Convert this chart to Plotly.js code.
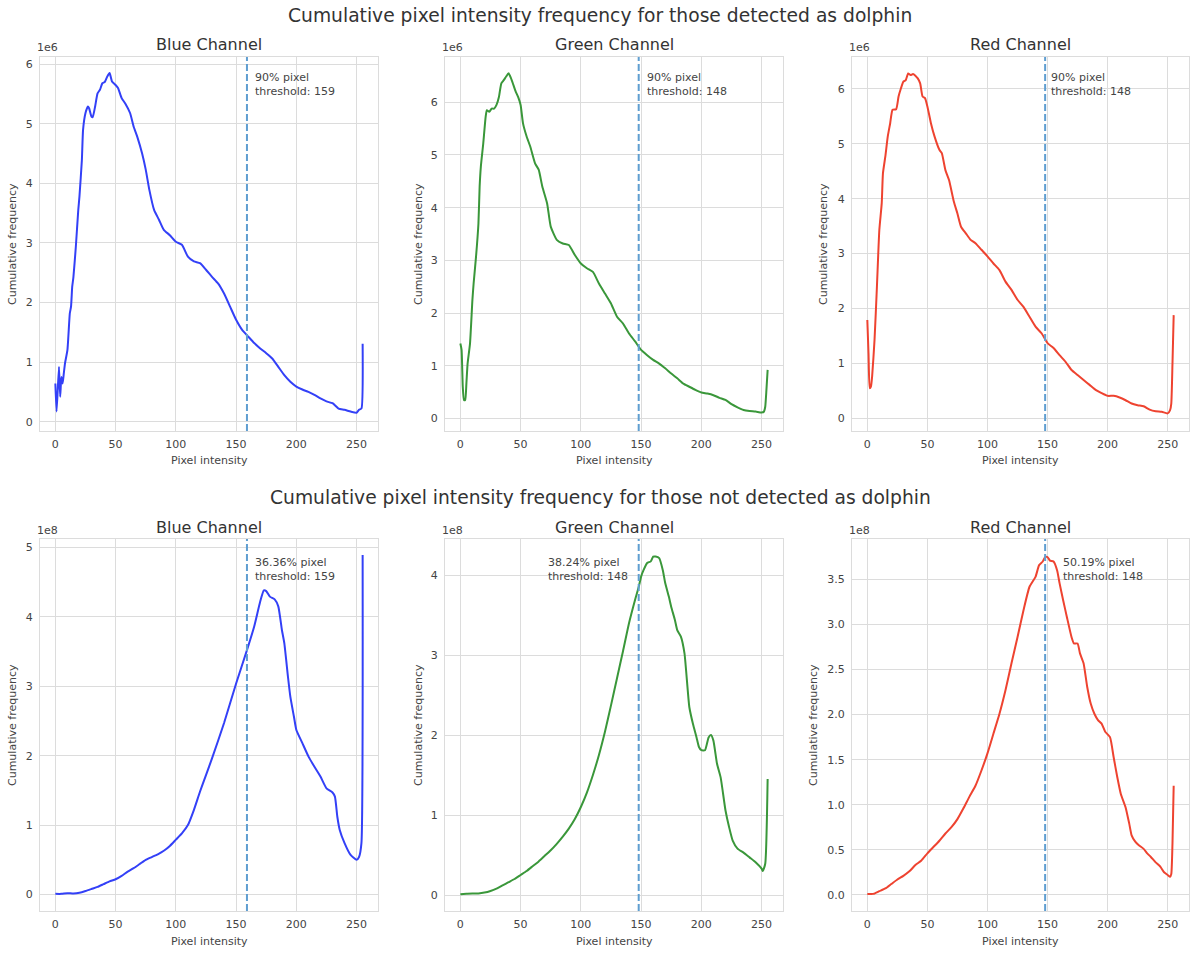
<!DOCTYPE html>
<html>
<head>
<meta charset="utf-8">
<script src="https://cdn.plot.ly/plotly-3.0.1.min.js"></script>
<style>html,body{margin:0;padding:0;background:#fff;}#chart{width:1200px;height:954px;}</style>
</head>
<body>
<div id="chart"></div>
<script>
// ---------- DATA ----------
// Detected as dolphin (y in units of 1e6)
const blueDetX = [0,1,3,4,5,6,7,8,10,12,13,14,15,17,19,20,22,23,25,27,28,30,31,33,35,37,39,41,43,45,47,50,52,55,58,62,65,68,72,75,78,82,86,90,95,100,105,110,115,120,125,130,135,140,145,150,155,160,165,170,175,180,185,190,195,200,205,210,215,220,225,230,235,240,245,250,252,254,255];
const blueDetY = [0.64,0.17,0.92,0.42,0.75,0.64,0.81,0.98,1.2,1.82,1.93,2.27,2.43,2.94,3.55,3.78,4.39,4.9,5.18,5.29,5.26,5.12,5.11,5.29,5.51,5.57,5.68,5.70,5.79,5.85,5.71,5.65,5.60,5.43,5.34,5.18,4.95,4.78,4.5,4.23,3.89,3.55,3.39,3.22,3.13,3.02,2.97,2.77,2.69,2.66,2.55,2.43,2.32,2.15,1.93,1.71,1.54,1.43,1.32,1.23,1.15,1.06,0.92,0.78,0.67,0.59,0.54,0.50,0.45,0.39,0.34,0.31,0.22,0.20,0.17,0.15,0.2,0.22,1.31];

const greenDetX = [0,1,2,3,4,5,6,8,10,11,13,15,16,17,19,21,22,24,26,28,30,32,34,36,38,40,42,44,46,48,50,52,55,58,62,65,68,72,75,80,85,90,95,100,105,110,115,120,125,130,135,140,145,150,155,160,165,170,175,180,185,190,195,200,205,210,215,220,225,230,235,240,245,250,252,253,254,255];
const greenDetY = [1.42,1.30,0.6,0.35,0.35,0.66,1.04,1.42,2.25,2.56,3.07,3.70,4.40,4.78,5.22,5.73,5.85,5.82,5.88,5.88,5.95,6.1,6.36,6.42,6.49,6.55,6.46,6.33,6.2,6.1,5.95,5.6,5.35,5.16,4.84,4.72,4.40,4.08,3.64,3.39,3.32,3.29,3.10,2.94,2.85,2.78,2.56,2.37,2.18,1.93,1.80,1.61,1.46,1.30,1.20,1.11,1.04,0.95,0.85,0.76,0.66,0.60,0.54,0.49,0.47,0.44,0.39,0.35,0.27,0.21,0.16,0.14,0.13,0.11,0.13,0.22,0.54,0.92];

const redDetX = [0,1,2,3,4,6,8,10,12,13,15,17,19,21,24,26,28,30,32,34,36,38,40,42,44,46,48,50,53,56,60,62,65,68,72,75,78,82,86,90,95,100,105,110,115,120,125,130,135,140,145,150,155,160,165,170,175,180,185,190,195,200,205,210,215,220,225,230,235,240,245,250,252,253,254,255];
const redDetY = [1.79,1.18,0.55,0.58,0.76,1.43,2.40,3.43,3.92,4.46,4.77,5.13,5.37,5.62,5.63,5.86,6.01,6.13,6.16,6.28,6.25,6.27,6.24,6.19,6.10,5.86,5.83,5.68,5.37,5.13,4.89,4.83,4.52,4.34,3.95,3.73,3.49,3.37,3.25,3.19,3.07,2.95,2.82,2.70,2.49,2.34,2.16,2.03,1.85,1.67,1.55,1.37,1.28,1.15,1.03,0.88,0.79,0.70,0.61,0.52,0.46,0.41,0.41,0.38,0.33,0.27,0.24,0.22,0.16,0.13,0.12,0.09,0.15,0.27,1.0,1.88];

// Not detected as dolphin (y in units of 1e8)
const blueNotX = [0,5,10,15,20,25,30,35,40,45,50,55,60,65,70,75,80,85,90,95,100,105,110,115,120,125,130,140,150,159,165,170,173,175,178,182,185,188,190,193,195,198,200,205,210,215,220,225,230,232,234,236,240,245,250,252,254,255];
const blueNotY = [0.01,0.01,0.02,0.015,0.025,0.05,0.08,0.11,0.15,0.19,0.22,0.27,0.33,0.38,0.44,0.50,0.54,0.58,0.63,0.70,0.79,0.88,1.00,1.22,1.48,1.72,1.96,2.47,3.04,3.52,3.86,4.22,4.38,4.37,4.29,4.25,4.15,3.81,3.62,3.14,2.85,2.56,2.37,2.18,1.99,1.84,1.70,1.53,1.47,1.41,1.12,0.93,0.74,0.57,0.50,0.54,0.74,4.89];

const greenNotX = [0,5,10,15,20,25,30,35,40,45,50,55,60,65,70,75,80,85,90,95,100,105,110,115,120,125,130,135,140,145,148,150,152,155,158,160,162,165,168,170,173,175,178,180,183,186,190,193,196,198,200,203,206,208,210,213,216,220,223,226,230,235,240,245,250,251,253,255];
const greenNotY = [0.01,0.015,0.02,0.02,0.03,0.05,0.08,0.12,0.16,0.20,0.25,0.30,0.36,0.42,0.49,0.56,0.64,0.73,0.83,0.95,1.10,1.28,1.50,1.75,2.04,2.37,2.71,3.05,3.40,3.69,3.85,3.98,4.06,4.15,4.17,4.23,4.23,4.21,4.06,3.90,3.73,3.60,3.44,3.31,3.23,3.02,2.35,2.14,1.97,1.85,1.81,1.81,1.97,2.0,1.93,1.64,1.47,1.06,0.85,0.68,0.58,0.53,0.47,0.41,0.33,0.30,0.39,1.45];

const redNotX = [0,5,10,15,20,25,30,35,40,45,50,55,60,65,70,75,80,85,90,95,100,105,110,115,120,125,130,135,140,143,146,148,150,152,155,158,160,163,166,170,172,175,177,180,183,186,189,192,195,198,202,205,208,211,215,218,220,223,226,230,233,236,240,244,247,250,252,253,254,255];
const redNotY = [0.01,0.01,0.04,0.07,0.12,0.17,0.21,0.26,0.33,0.38,0.46,0.53,0.60,0.68,0.75,0.84,0.96,1.09,1.21,1.38,1.57,1.79,2.01,2.27,2.57,2.86,3.16,3.42,3.53,3.66,3.70,3.75,3.75,3.71,3.70,3.60,3.46,3.27,3.09,2.86,2.79,2.79,2.68,2.57,2.31,2.12,2.01,1.94,1.90,1.81,1.75,1.53,1.31,1.12,0.97,0.79,0.66,0.59,0.55,0.51,0.46,0.42,0.36,0.31,0.25,0.22,0.20,0.23,0.57,1.21];

const channelTitles = ['Blue Channel','Green Channel','Red Channel','Blue Channel','Green Channel','Red Channel'];
const thresholds = [159,148,148,159,148,148];
const percentLabels = ['90%','90%','90%','36.36%','38.24%','50.19%'];
const offsetLabels = ['1e6','1e6','1e6','1e8','1e8','1e8'];
const rowTitles = ['Cumulative pixel intensity frequency for those detected as dolphin',
                   'Cumulative pixel intensity frequency for those not detected as dolphin'];
const xTickVals = [0,50,100,150,200,250];
const xLabel = 'Pixel intensity';
const yLabel = 'Cumulative frequency';

// ---------- STYLE / LAYOUT ----------
const W = 1200, H = 954;
const colPx = [[40,378],[445,783],[852,1189]];
const rowPx = [[57,431],[539,911]];
const lineColors = ['#3340f7','#3a973a','#ee4330','#3340f7','#3a973a','#ee4330'];
const yRanges = [[-0.156,6.12],[-0.24,6.86],[-0.23,6.58],[-0.237,5.12],[-0.2,4.45],[-0.18,3.95]];
const yDtick = [1,1,1,1,1,0.5];
const yFormat = ['d','d','d','d','d','.1f'];
const yTitleOffset = [28,27,29,28,27,39];
const annX = [5,5,3,5,-7,13];
const annAnchor = ['left','left','left','left','right','left'];
const seriesX = [blueDetX,greenDetX,redDetX,blueNotX,greenNotX,redNotX];
const seriesY = [blueDetY,greenDetY,redDetY,blueNotY,greenNotY,redNotY];

const FONT = 'DejaVu Sans, Verdana, sans-serif';
const TXT = '#444444';
const GRID = '#dcdcdc';

const traces = [];
const layout = {
  width: W, height: H,
  margin: {l:0,r:0,t:0,b:0},
  paper_bgcolor: '#ffffff', plot_bgcolor: '#ffffff',
  showlegend: false,
  font: {family: FONT, color: TXT, size: 11},
  shapes: [], annotations: []
};

for (let i = 0; i < 6; i++) {
  const r = Math.floor(i/3), c = i % 3;
  const n = i + 1;
  const xa = n === 1 ? 'x' : 'x' + n;
  const ya = n === 1 ? 'y' : 'y' + n;
  const xKey = n === 1 ? 'xaxis' : 'xaxis' + n;
  const yKey = n === 1 ? 'yaxis' : 'yaxis' + n;
  const [x0,x1] = colPx[c];
  const [t0,t1] = rowPx[r];
  layout[xKey] = {
    domain: [x0/W, x1/W], anchor: ya, range: [-12.75, 267.75],
    tickvals: xTickVals, showgrid: true, gridcolor: GRID, gridwidth: 1,
    zeroline: false, showline: true, mirror: true, linecolor: GRID, linewidth: 1,
    ticks: 'outside', ticklen: 3, tickcolor: 'rgba(0,0,0,0)',
    tickfont: {family: FONT, size: 11, color: TXT}, fixedrange: true
  };
  layout[yKey] = {
    domain: [1 - t1/H, 1 - t0/H], anchor: xa, range: yRanges[i],
    dtick: yDtick[i], tick0: 0, tickformat: yFormat[i],
    showgrid: true, gridcolor: GRID, gridwidth: 1,
    zeroline: false, showline: true, mirror: true, linecolor: GRID, linewidth: 1,
    ticks: 'outside', ticklen: 4, tickcolor: 'rgba(0,0,0,0)',
    tickfont: {family: FONT, size: 11, color: TXT}, fixedrange: true
  };
  traces.push({
    type: 'scatter', mode: 'lines', x: seriesX[i], y: seriesY[i],
    xaxis: xa, yaxis: ya, line: {color: lineColors[i], width: 2, shape: 'spline', smoothing: 0.5},
    hoverinfo: 'skip'
  });
  // threshold line
  layout.shapes.push({
    type: 'line', xref: xa, yref: ya + ' domain', x0: thresholds[i], x1: thresholds[i], y0: 0, y1: 1,
    line: {color: '#5f9ed1', width: 2, dash: '7px,3px'}
  });
  // threshold text
  layout.annotations.push({
    xref: xa, yref: ya + ' domain', x: thresholds[i] + annX[i], y: r === 0 ? 0.967 : 0.96,
    xanchor: annAnchor[i], yanchor: 'top', align: 'left', showarrow: false,
    text: percentLabels[i] + ' pixel<br>threshold: ' + thresholds[i],
    font: {family: FONT, size: 11, color: TXT}
  });
  // subplot title
  layout.annotations.push({
    xref: 'paper', yref: 'paper', x: (x0 + x1) / 2 / W, y: 1 - (t0 - 12) / H,
    xanchor: 'center', yanchor: 'middle', showarrow: false, text: channelTitles[i],
    font: {family: FONT, size: 16, color: '#333333'}
  });
  // offset text
  layout.annotations.push({
    xref: 'paper', yref: 'paper', x: x0 / W - 0.004, y: 1 - (t0 - 9) / H,
    xanchor: 'left', yanchor: 'middle', showarrow: false, text: offsetLabels[i],
    font: {family: FONT, size: 11, color: TXT}
  });
  // x axis title
  layout.annotations.push({
    xref: 'paper', yref: 'paper', x: (x0 + x1) / 2 / W, y: 1 - (t1 + 30) / H,
    xanchor: 'center', yanchor: 'middle', showarrow: false, text: xLabel,
    font: {family: FONT, size: 11, color: TXT}
  });
  // y axis title
  layout.annotations.push({
    xref: 'paper', yref: 'paper', x: (x0 - yTitleOffset[i]) / W, y: 1 - (t0 + t1) / 2 / H,
    xanchor: 'center', yanchor: 'middle', showarrow: false, text: yLabel, textangle: -90,
    font: {family: FONT, size: 11, color: TXT}
  });
}
// row titles
layout.annotations.push({
  xref: 'paper', yref: 'paper', x: 0.5, y: 1 - 16 / H, xanchor: 'center', yanchor: 'middle',
  showarrow: false, text: rowTitles[0], font: {family: FONT, size: 18.7, color: '#333333'}
});
layout.annotations.push({
  xref: 'paper', yref: 'paper', x: 0.5, y: 1 - 497 / H, xanchor: 'center', yanchor: 'middle',
  showarrow: false, text: rowTitles[1], font: {family: FONT, size: 18.7, color: '#333333'}
});

Plotly.newPlot('chart', traces, layout, {displayModeBar: false, staticPlot: true});
</script>
</body>
</html>
